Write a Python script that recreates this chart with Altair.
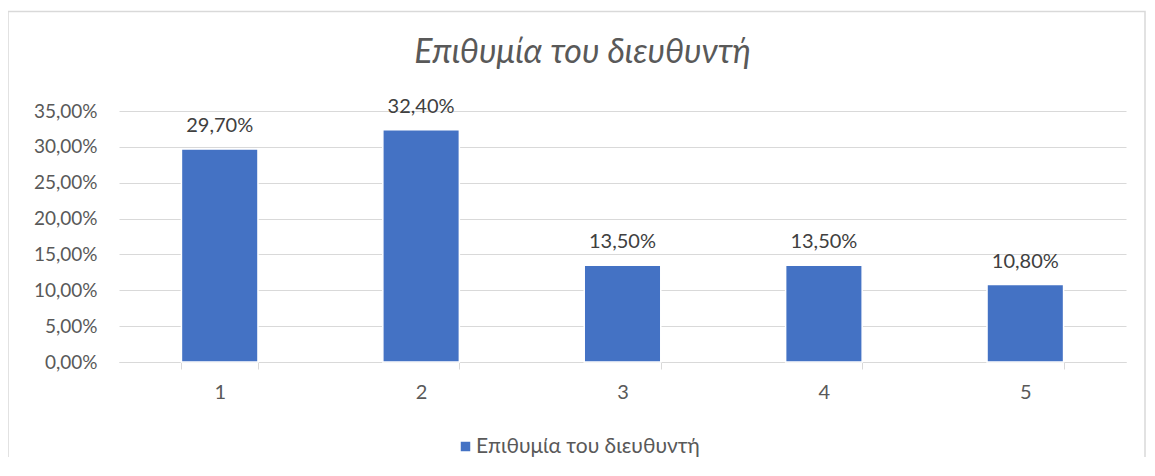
import altair as alt
import pandas as pd

categories = ["1", "2", "3", "4", "5"]
values = [0.297, 0.324, 0.135, 0.135, 0.108]
series_name = "Επιθυμία του διευθυντή"
title_text = "Επιθυμία του διευθυντή"
y_ticks = [0, 0.05, 0.10, 0.15, 0.20, 0.25, 0.30, 0.35]

df = pd.DataFrame({"cat": categories, "val": values, "series": [series_name] * len(categories)})

FONT = "Lato"
FS = 20
W, H = 1007, 251

x = alt.X("cat:N", title=None, sort=categories,
          scale=alt.Scale(paddingInner=0.62, paddingOuter=0.31),
          axis=alt.Axis(labelAngle=0, tickBand="extent", tickSize=7, tickColor="#d9d9d9",
                        domainColor="#d9d9d9", labelFontSize=FS, labelColor="#595959",
                        labelFont=FONT, labelPadding=13, grid=False))
y = alt.Y("val:Q", title=None, scale=alt.Scale(domain=[0, 0.35], nice=False),
          axis=alt.Axis(values=y_ticks, tickCount=8,
                        labelExpr="replace(format(datum.value, '.2%'), '.', ',')",
                        domain=False, ticks=False, gridColor="#d9d9d9", gridWidth=1,
                        labelOverlap=False, labelFontSize=19, labelColor="#595959",
                        labelFont=FONT, labelPadding=22))

border = alt.Chart(pd.DataFrame({"a": [0]})).mark_rect(
    fill=None, stroke="#d9d9d9", strokeWidth=1.5, clip=False
).encode(x=alt.value(-111), x2=alt.value(1026), y=alt.value(-99.5), y2=alt.value(380))

bars = alt.Chart(df).mark_bar(stroke="white", strokeWidth=1.5).encode(
    x=x, y=y,
    color=alt.Color("series:N", scale=alt.Scale(range=["#4472C4"]),
                    legend=alt.Legend(orient="none", legendX=336, legendY=325, title=None,
                                      symbolType="square", symbolSize=90, symbolStrokeWidth=0,
                                      labelFontSize=21, labelColor="#595959", labelFont=FONT,
                                      labelOffset=0, labelLimit=0))
)

labels = alt.Chart(df).transform_calculate(
    lab="replace(format(datum.val, '.2%'), '.', ',')"
).mark_text(dy=-17, baseline="alphabetic", align="center", fontSize=FS, color="#404040", font=FONT).encode(
    x=x, y=y, text="lab:N"
)

chart = alt.layer(border, bars, labels).properties(
    width=W, height=H,
    title=alt.TitleParams(title_text, font=FONT, fontSize=34, fontStyle="italic",
                          fontWeight="normal", color="#595959", anchor="middle",
                          dx=-40, offset=-59),
    autosize=alt.AutoSizeParams(type="none"),
    padding={"left": 111, "top": 103, "right": 20, "bottom": 95},
).configure_view(stroke=None)

chart.save("out.html", embed_options={"renderer": "svg", "actions": False})
